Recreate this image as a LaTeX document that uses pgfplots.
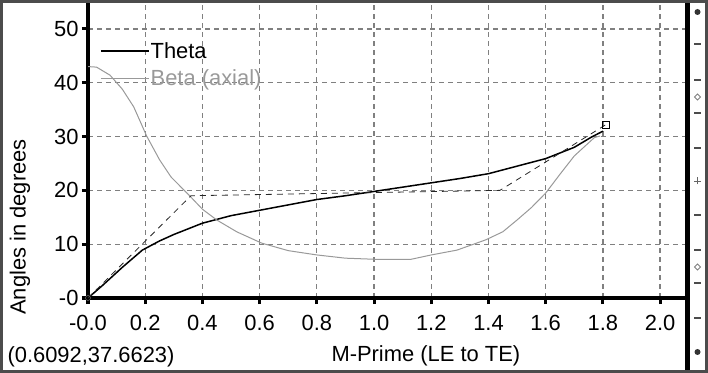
\documentclass[border=0pt]{standalone}
\usepackage{fontspec}
\setmainfont{Liberation Sans}
\usepackage{pgfplots}
\pgfplotsset{compat=1.18}
\begin{document}
\begin{tikzpicture}
\useasboundingbox (0,0) rectangle (708bp,373bp);
\begin{axis}[
  at={(88bp,75bp)}, anchor=south west,
  scale only axis, width=597bp, height=296bp,
  xmin=0, xmax=2.087, ymin=0, ymax=55,
  axis x line*=bottom, axis y line*=left,
  axis line style={-, line width=3bp, black},
  xtick={0,0.2,0.4,0.6,0.8,1.0,1.2,1.4,1.6,1.8,2.0},
  xticklabels={-0.0,0.2,0.4,0.6,0.8,1.0,1.2,1.4,1.6,1.8,2.0},
  ytick={0,10,20,30,40,50},
  yticklabels={-0,10,20,30,40,50},
  tick align=outside, major tick length=6bp,
  tick style={black, line width=3bp},
  grid=major,
  major grid style={gray, line width=1.3bp, dash pattern=on 5bp off 4bp},
  ticklabel style={font=\fontsize{22}{22}\selectfont},
  xticklabel style={yshift=-8bp},
  /pgf/number format/assume math mode=true,
  xlabel={M-Prime (LE to TE)},
  xlabel style={at={(axis description cs:0.566,-0.197)}, anchor=center},
  ylabel={Angles in degrees},
  ylabel style={at={(axis description cs:-0.114,0.24)}, anchor=center},
  label style={font=\fontsize{22}{22}\selectfont},
  legend style={at={(axis description cs:0.02,0.868)}, anchor=north west, draw=none, fill=none,
    font=\fontsize{22}{22}\selectfont, row sep=8bp, inner sep=0pt, nodes={inner sep=1bp}},
  legend cell align=left,
  legend image code/.code={\draw[#1] (0bp,0bp) -- (48bp,0bp);},
]
\addplot[black, line width=1.5bp] coordinates {
(0,0) (0.05,2.3) (0.12,5.7) (0.19,8.9) (0.25,10.6) (0.30,11.8) (0.40,13.9)
(0.50,15.3) (0.60,16.3) (0.70,17.3) (0.80,18.3) (0.90,19.0) (1.00,19.8)
(1.10,20.6) (1.20,21.4) (1.30,22.2) (1.40,23.1) (1.50,24.5) (1.60,25.9)
(1.70,28.0) (1.76,29.9) (1.80,31.0)};
\addlegendentry{Theta}
\addplot[gray!80, line width=1bp] coordinates {
(0,43.0) (0.03,42.9) (0.077,41.4) (0.12,38.8) (0.16,35.5) (0.205,30.1)
(0.25,25.7) (0.29,22.5) (0.357,18.9) (0.40,16.5) (0.45,14.5) (0.52,12.3) (0.607,10.2)
(0.70,8.8) (0.80,8.0) (0.90,7.4) (1.0,7.2) (1.13,7.2) (1.20,8.0) (1.29,8.9)
(1.39,10.8) (1.45,12.3) (1.50,14.5) (1.55,16.8) (1.60,19.5) (1.65,23.0)
(1.70,26.4) (1.77,29.8) (1.79,30.1)};
\addlegendentry{\textcolor{gray!80}{Beta (axial)}}
\addplot[black!85, line width=0.8bp, dash pattern=on 6bp off 5bp, forget plot] coordinates {
(0,0) (0.36,19.0) (1.44,20.0) (1.81,32.2)};
\addplot[only marks, mark=square, mark size=3.5bp, black, line width=1.2bp, forget plot] coordinates {(1.81,32.2)};
\addplot[only marks, mark=o, mark size=2.5bp, gray, forget plot] coordinates {(0,0)};
\end{axis}
\node[font=\fontsize{22}{22}\selectfont] at (91bp,16bp) {(0.6092,37.6623)};
\fill[black] (685bp,0bp) rectangle (690bp,373bp);
\foreach \y in {44,80,113,148,215,250,283,318} {
  \draw[black!70, line width=1.2bp] (694bp,{(373-\y)*1bp}) -- (701bp,{(373-\y)*1bp});
}
\fill[black!80] (697.5bp,361bp) circle (3bp);
\fill[black!80] (697.5bp,21bp) circle (3bp);
\foreach \y in {97,267} {
  \draw[black!50, line width=0.8bp] (694.5bp,{(373-\y)*1bp}) -- (697.5bp,{(376-\y)*1bp}) -- (700.5bp,{(373-\y)*1bp}) -- (697.5bp,{(370-\y)*1bp}) -- cycle;
}
\draw[black!60, line width=0.8bp] (694bp,192bp) -- (701bp,192bp) (697.5bp,188.5bp) -- (697.5bp,195.5bp);
\draw[black!70, line width=3bp] (1.5bp,1.5bp) rectangle (706.5bp,371.5bp);
\end{tikzpicture}
\end{document}
